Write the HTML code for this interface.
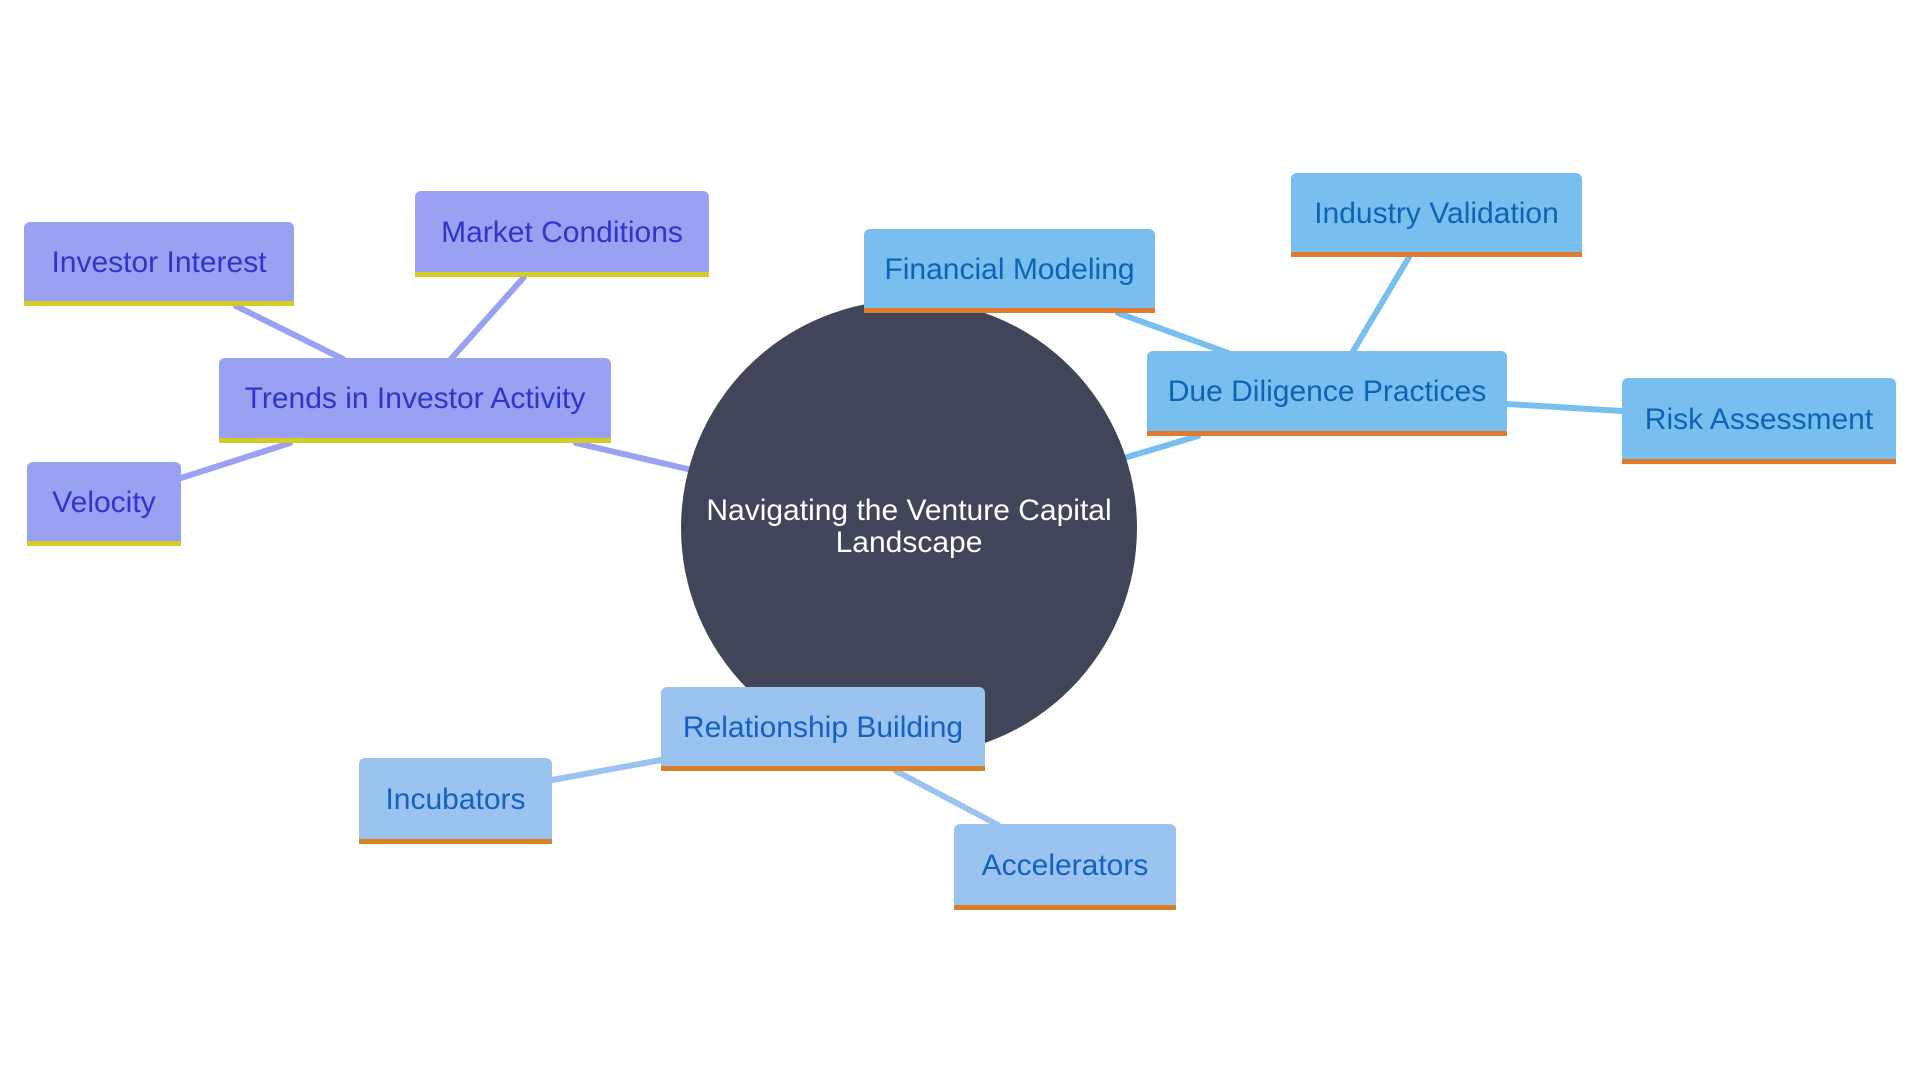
<!DOCTYPE html>
<html><head><meta charset="utf-8"><style>
body{margin:0;width:1920px;height:1080px;background:#fff;overflow:hidden;font-family:"Liberation Sans",sans-serif}
svg{position:absolute;left:0;top:0}
.b{position:absolute;box-sizing:border-box;display:flex;align-items:center;justify-content:center;font-size:30px;border-radius:6px 6px 0 0;padding-top:2px;white-space:nowrap}
.p{background:#9aa0f2;color:#2e35c9;border-bottom:5px solid #d4cc26}
.d{background:#78bff0;color:#0e63b5;border-bottom:5px solid #e07a2f}
.r{background:#9ac3f0;color:#1560c0;border-bottom:5px solid #d98026}
</style></head><body>
<svg width="1920" height="1080">
<g stroke-width="6" stroke-linecap="round">
<g stroke="#9aa0f2">
<line x1="576" y1="443" x2="692" y2="470"/>
<line x1="343" y1="359" x2="236" y2="306"/>
<line x1="451" y1="359" x2="524" y2="277"/>
<line x1="290" y1="443" x2="181" y2="478"/>
</g>
<g stroke="#78bff0">
<line x1="1198" y1="436" x2="1124" y2="458"/>
<line x1="1228" y1="353" x2="1118" y2="313"/>
<line x1="1352" y1="353" x2="1409" y2="257"/>
<line x1="1507" y1="404" x2="1622" y2="411"/>
</g>
<g stroke="#9ac3f0">
<line x1="661" y1="760" x2="552" y2="780"/>
<line x1="896" y1="771" x2="998" y2="825"/>
</g>
</g>
<circle cx="909" cy="528" r="228" fill="#414559"/>
<text x="909" y="520" fill="#fff" font-size="30" text-anchor="middle" font-family="Liberation Sans, sans-serif">Navigating the Venture Capital</text>
<text x="909" y="552" fill="#fff" font-size="30" text-anchor="middle" font-family="Liberation Sans, sans-serif">Landscape</text>
</svg>
<div class="b p" style="left:219px;top:358px;width:392px;height:85px">Trends in Investor Activity</div>
<div class="b p" style="left:24px;top:222px;width:270px;height:84px">Investor Interest</div>
<div class="b p" style="left:415px;top:191px;width:294px;height:86px">Market Conditions</div>
<div class="b p" style="left:27px;top:462px;width:154px;height:84px">Velocity</div>
<div class="b d" style="left:864px;top:229px;width:291px;height:84px">Financial Modeling</div>
<div class="b d" style="left:1291px;top:173px;width:291px;height:84px">Industry Validation</div>
<div class="b d" style="left:1147px;top:351px;width:360px;height:85px">Due Diligence Practices</div>
<div class="b d" style="left:1622px;top:378px;width:274px;height:86px">Risk Assessment</div>
<div class="b r" style="left:661px;top:687px;width:324px;height:84px">Relationship Building</div>
<div class="b r" style="left:359px;top:758px;width:193px;height:86px">Incubators</div>
<div class="b r" style="left:954px;top:824px;width:222px;height:86px">Accelerators</div>
</body></html>
